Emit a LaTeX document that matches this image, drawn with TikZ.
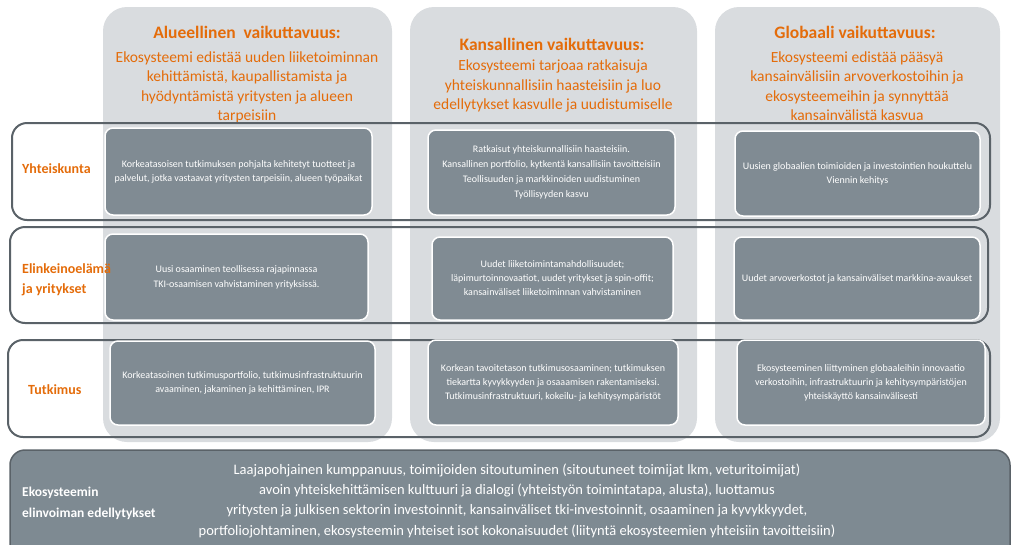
\documentclass[tikz,border=0pt]{standalone}
\usepackage{fontspec}
\setmainfont{Carlito}
\definecolor{impact}{HTML}{E46C0A}
\definecolor{colbg}{HTML}{D9DCDF}
\definecolor{cellgrey}{HTML}{808B93}
\definecolor{frameline}{HTML}{5A6268}
\definecolor{basegrey}{HTML}{7E8A92}
\begin{document}
\begin{tikzpicture}[x=1pt,y=-1pt,
    column/.style={fill=colbg,rounded corners=24pt},
    rowframe/.style={draw=frameline,line width=2pt,rounded corners=15pt},
    cell/.style={fill=cellgrey,draw=white,line width=1.5pt,rounded corners=8pt,
      text=white,align=center,inner sep=2pt,font=\fontsize{10}{14}\selectfont},
    rowlabel/.style={text=impact,anchor=west,align=left,inner sep=0pt,
      font=\fontsize{14}{20}\selectfont\bfseries},
    headtitle/.style={text=impact,inner sep=0pt,font=\fontsize{17.5}{20}\selectfont\bfseries},
    headtext/.style={text=impact,align=center,inner sep=0pt,font=\fontsize{15.5}{19.5}\selectfont}]
  \useasboundingbox (0,0) rectangle (1014,544);
  \clip (0,0) rectangle (1014,544);
  % columns
  \fill[column] (103,7) rectangle (392,442);
  \fill[column] (410,7) rectangle (697,442);
  \fill[column] (715,7) rectangle (1000,442);
  % headers
  \node[headtitle] (t1) at (247,32) {Alueellinen\ \ vaikuttavuus:};
  \node[headtext] (s1) at (247,87.5) {Ekosysteemi edistää uuden liiketoiminnan\\kehittämistä, kaupallistamista ja\\hyödyntämistä yritysten ja alueen\\tarpeisiin};
  \node[headtitle] (t2) at (552,44) {Kansallinen vaikuttavuus:};
  \node[headtext] (s2) at (553,86) {Ekosysteemi tarjoaa ratkaisuja\\yhteiskunnallisiin haasteisiin ja luo\\edellytykset kasvulle ja uudistumiselle};
  \node[headtitle] (t3) at (855,32) {Globaali vaikuttavuus:};
  \node[headtext] (s3) at (857,86) {Ekosysteemi edistää pääsyä\\kansainvälisiin arvoverkostoihin ja\\ekosysteemeihin ja synnyttää\\kansainvälistä kasvua};
  % row frames
  \draw[rowframe] (12,123) rectangle (990,220);
  \draw[rowframe] (10,227) rectangle (988,323);
  \draw[rowframe] (8,340) rectangle (990,437);
  % cells
  \node[cell,minimum width=267pt,minimum height=87pt] (y1) at (238.5,171.5)
    {Korkeatasoisen tutkimuksen pohjalta kehitetyt tuotteet ja\\palvelut, jotka vastaavat yritysten tarpeisiin, alueen työpaikat};
  \node[cell,minimum width=247pt,minimum height=85pt] (y2) at (551.5,172.5)
    {Ratkaisut yhteiskunnallisiin haasteisiin.\\[1pt]Kansallinen portfolio, kytkentä kansallisiin tavoitteisiin\\[1pt]Teollisuuden ja markkinoiden uudistuminen\\[1pt]Työllisyyden kasvu};
  \node[cell,minimum width=245pt,minimum height=85pt] (y3) at (857.5,173.5)
    {Uusien globaalien toimioiden ja investointien houkuttelu\\Viennin kehitys};
  \node[cell,minimum width=263pt,minimum height=86pt] (e1) at (236.5,277)
    {Uusi osaaminen teollisessa rajapinnassa\\[1pt]TKI-osaamisen vahvistaminen yrityksissä.};
  \node[cell,minimum width=241pt,minimum height=83pt] (e2) at (552.5,278.5)
    {Uudet liiketoimintamahdollisuudet;\\läpimurtoinnovaatiot, uudet yritykset ja spin-offit;\\kansainväliset liiketoiminnan vahvistaminen};
  \node[cell,minimum width=246pt,minimum height=83pt] (e3) at (857,278.5)
    {Uudet arvoverkostot ja kansainväliset markkina-avaukset};
  \node[cell,minimum width=265pt,minimum height=84pt] (k1) at (242.5,383)
    {Korkeatasoinen tutkimusportfolio, tutkimusinfrastruktuurin\\avaaminen, jakaminen ja kehittäminen, IPR};
  \node[cell,minimum width=250pt,minimum height=85pt] (k2) at (553,382.5)
    {Korkean tavoitetason tutkimusosaaminen; tutkimuksen\\tiekartta kyvykkyyden ja osaaamisen rakentamiseksi.\\Tutkimusinfrastruktuuri, kokeilu- ja kehitysympäristöt};
  \node[cell,minimum width=248pt,minimum height=85pt] (k3) at (861,382.5)
    {Ekosysteeminen liittyminen globaaleihin innovaatio\\verkostoihin, infrastruktuurin ja kehitysympäristöjen\\yhteiskäyttö kansainvälisesti};
  % row labels
  \node[rowlabel] (l1) at (22,169) {Yhteiskunta};
  \node[rowlabel] (l2) at (22,280) {Elinkeinoelämä\\ja yritykset};
  \node[rowlabel] (l3) at (28,390) {Tutkimus};
  % base
  \draw[fill=basegrey,draw=frameline,line width=1.5pt,rounded corners=15pt] (10,450) rectangle (1010,570);
  \node[text=white,anchor=west,align=left,inner sep=0pt,font=\fontsize{13.5}{21}\selectfont\bfseries] (b1) at (22,503.5)
    {Ekosysteemin\\elinvoiman edellytykset};
  \node[text=white,align=center,inner sep=0pt,font=\fontsize{14.5}{20.3}\selectfont] (b2) at (517,500.5)
    {Laajapohjainen kumppanuus, toimijoiden sitoutuminen (sitoutuneet toimijat lkm, veturitoimijat)\\
     avoin yhteiskehittämisen kulttuuri ja dialogi (yhteistyön toimintatapa, alusta), luottamus\\
     yritysten ja julkisen sektorin investoinnit, kansainväliset tki-investoinnit, osaaminen ja kyvykkyydet,\\
     portfoliojohtaminen, ekosysteemin yhteiset isot kokonaisuudet (liityntä ekosysteemien yhteisiin tavoitteisiin)};
\end{tikzpicture}
\end{document}
